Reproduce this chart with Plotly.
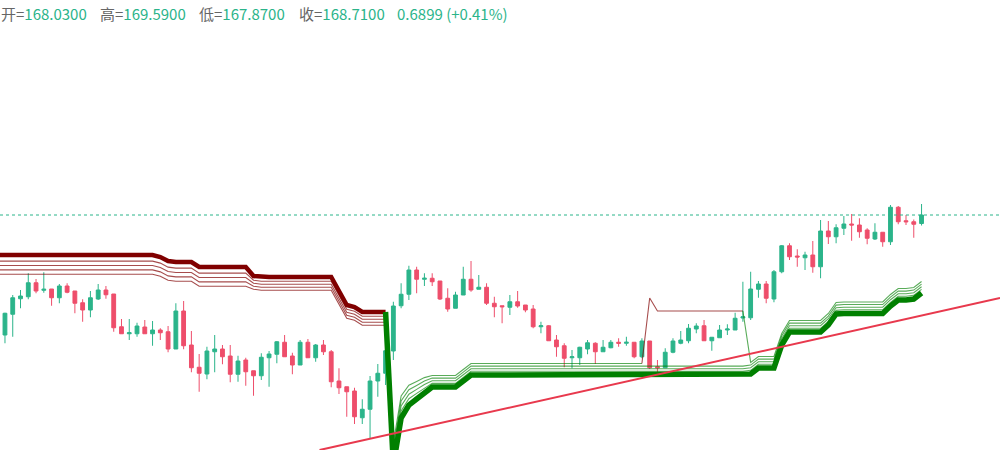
import plotly.graph_objects as go

# ---------------- data ----------------
opens = [159.11, 160.77, 162.01, 162.17, 163.29, 162.69, 162.79, 162.09, 163.03, 162.63,
         161.69, 161.11, 161.99, 162.71, 162.39, 159.77, 159.21, 159.21, 159.75, 159.21,
         159.51, 159.37, 157.99, 161.03, 158.31, 156.53, 155.99, 157.77, 157.99, 157.43,
         155.97, 157.11, 156.25, 155.85, 157.29, 157.57, 158.53, 157.43, 156.71, 158.53,
         157.29, 158.31, 157.77, 155.43, 154.97, 154.63, 152.49, 153.17, 155.43, 156.05,
         157.83, 161.45, 162.37, 164.31, 163.57, 163.65, 163.43, 162.05, 161.25, 162.31,
         163.57, 162.77, 162.93, 161.65, 161.45, 161.33, 161.77, 161.51, 161.19, 159.77,
         159.85, 158.71, 158.25, 157.29, 157.29, 157.99, 158.45, 157.77, 158.09, 158.53,
         158.45, 158.53, 157.37, 158.63, 156.57, 156.49, 157.73, 158.45, 158.65, 159.59,
         159.85, 158.65, 158.89, 159.51, 159.51, 160.47, 160.49, 162.77, 163.19, 161.99,
         164.17, 166.25, 165.43, 165.29, 165.51, 164.57, 167.43, 166.97, 167.65, 167.99,
         167.91, 167.51, 166.79, 167.33, 166.57, 169.33, 168.25, 168.17, 168.03]
highs = [160.89, 162.31, 162.71, 164.05, 163.59, 164.13, 162.79, 163.19, 163.25, 162.63,
         161.97, 162.63, 163.19, 163.03, 162.39, 160.39, 160.39, 160.09, 160.31, 160.23,
         159.65, 159.83, 161.65, 161.83, 159.43, 157.59, 158.17, 159.11, 158.31, 158.31,
         157.45, 157.29, 156.25, 157.65, 157.83, 158.63, 159.11, 157.69, 158.71, 158.79,
         158.39, 158.71, 157.91, 156.45, 154.97, 154.89, 153.97, 155.83, 156.79, 158.23,
         161.77, 163.25, 164.65, 164.57, 164.05, 164.05, 163.43, 162.85, 162.57, 164.57,
         165.03, 163.91, 163.25, 162.17, 161.45, 162.31, 162.63, 161.51, 161.51, 160.17,
         159.91, 159.11, 158.45, 157.91, 158.17, 158.71, 158.53, 158.71, 158.71, 158.85,
         158.97, 158.53, 158.85, 158.63, 157.11, 158.05, 158.85, 159.43, 159.99, 160.05,
         160.31, 158.93, 159.91, 159.97, 160.89, 163.37, 164.17, 163.43, 163.43, 164.31,
         166.31, 166.45, 165.97, 165.77, 166.63, 168.31, 168.23, 167.97, 168.63, 168.79,
         168.45, 167.65, 168.05, 167.33, 169.51, 169.43, 168.71, 168.35, 169.59]
lows = [158.45, 158.97, 161.25, 161.97, 162.45, 162.49, 161.45, 161.65, 162.45, 160.85,
        160.17, 160.53, 161.91, 162.01, 159.37, 159.21, 158.71, 158.97, 159.21, 158.25,
        158.71, 157.73, 157.99, 157.97, 156.13, 154.57, 155.57, 156.13, 156.77, 155.33,
        155.37, 155.05, 154.25, 155.51, 154.97, 156.85, 157.37, 155.97, 156.71, 157.29,
        156.97, 157.51, 154.93, 154.39, 152.57, 151.99, 151.99, 150.85, 154.17, 155.11,
        157.11, 161.25, 161.91, 162.45, 163.03, 163.03, 161.91, 160.97, 161.25, 162.31,
        162.57, 162.77, 161.51, 160.53, 160.05, 160.71, 161.29, 160.93, 159.65, 159.25,
        158.65, 157.37, 156.53, 156.45, 156.71, 157.57, 156.79, 157.77, 158.05, 158.17,
        158.25, 157.25, 157.25, 156.39, 155.85, 156.49, 157.65, 158.37, 158.45, 159.25,
        158.65, 157.85, 158.89, 159.11, 159.51, 160.17, 160.31, 162.09, 161.65, 161.73,
        164.05, 165.11, 164.57, 164.31, 164.09, 163.65, 166.39, 166.45, 167.11, 166.65,
        166.89, 166.37, 166.71, 166.17, 166.31, 167.97, 167.91, 166.89, 167.87]
closes = [160.85, 162.09, 162.23, 163.29, 162.63, 162.77, 162.09, 163.03, 162.53, 161.65,
          161.11, 162.09, 162.71, 162.33, 159.69, 159.21, 159.29, 159.83, 159.21, 159.51,
          159.29, 157.99, 161.03, 158.25, 156.49, 156.05, 157.83, 157.99, 157.37, 155.97,
          157.03, 156.17, 155.85, 157.33, 157.59, 158.57, 157.37, 156.71, 158.53, 157.29,
          158.31, 157.77, 155.37, 154.89, 154.57, 152.57, 153.17, 155.43, 156.05, 157.85,
          161.43, 162.37, 164.31, 163.57, 163.65, 163.37, 161.99, 161.19, 162.31, 163.57,
          162.71, 162.93, 161.65, 161.37, 161.37, 161.77, 161.43, 161.11, 159.77, 159.85,
          158.65, 158.17, 157.25, 157.37, 158.13, 158.49, 157.77, 158.13, 158.53, 158.45,
          158.53, 157.37, 158.63, 156.49, 156.49, 157.73, 158.63, 158.71, 159.65, 159.83,
          158.65, 158.93, 159.51, 159.59, 160.45, 160.57, 162.79, 163.19, 162.05, 164.17,
          166.25, 165.37, 165.35, 165.51, 164.57, 167.43, 166.97, 167.69, 167.99, 167.91,
          167.37, 166.85, 167.33, 166.57, 169.33, 168.17, 168.17, 167.97, 168.71]

# main (widest) supertrend line, one value per bar index from -1 to 118
st_x = list(range(-1, 119))
st_main = [165.51, 165.51, 165.51, 165.51, 165.51, 165.51, 165.51, 165.51, 165.51, 165.51,
           165.51, 165.51, 165.51, 165.51, 165.51, 165.51, 165.51, 165.51, 165.51, 165.51,
           165.51, 165.35, 165.03, 164.95, 164.95, 164.95, 164.55, 164.55, 164.55, 164.55,
           164.55, 164.55, 164.55, 163.83, 163.75, 163.75, 163.75, 163.75, 163.75, 163.75,
           163.75, 163.75, 163.75, 163.75, 162.63, 161.51, 161.35, 160.95, 160.95, 160.95,
           160.95, 148.71, 152.47, 153.51, 153.99, 154.47, 154.95, 154.95, 154.95, 154.95,
           155.43, 155.91, 155.91, 155.91, 155.91, 155.91, 155.91, 155.91, 155.91, 155.91,
           155.91, 155.91, 155.91, 155.91, 155.91, 155.91, 155.91, 155.91, 155.91, 155.91,
           155.91, 155.91, 155.91, 155.91, 155.91, 155.91, 155.91, 155.91, 155.91, 155.91,
           155.91, 155.91, 155.91, 155.91, 155.91, 155.91, 155.91, 155.99, 156.47, 156.47,
           156.47, 158.31, 159.35, 159.35, 159.35, 159.35, 159.35, 159.91, 160.79, 160.83,
           160.83, 160.83, 160.83, 160.83, 160.83, 161.43, 161.91, 161.91, 161.99, 162.47]
st_flip = 50            # first bar of the up-trend (green) regime
# spacing between the stacked thinner lines: (first bar, last bar, price gap)
st_gaps = [(-1, 31, 0.35), (32, 49, 0.24), (50, 51, 0.40), (52, 52, 0.36),
           (53, 53, 0.32), (54, 54, 0.28), (55, 118, 0.21)]
# the fastest line flips to a down-trend between these bars
fast_down_x = [83, 84, 85, 86, 87, 88, 89, 90, 91, 92, 93, 94, 95]
fast_down_y = [162.07, 161.03, 161.03, 161.03, 161.03, 161.03, 161.03, 161.03,
               161.03, 161.03, 161.03, 161.03, 161.03]

trend_x = [40.5, 128.1]
trend_y = [149.91, 162.07]

last_close = 168.71
header = [("开", "168.0300"), ("高", "169.5900"), ("低", "167.8700"), ("收", "168.7100")]
change_text = "0.6899 (+0.41%)"

# ---------------- style ----------------
UP = "#2bb48a"
DOWN = "#ee4e6b"
THICK_RED = "#800000"
THICK_GREEN = "#008000"
THIN_RED = "rgba(128,0,0,0.7)"
THIN_GREEN = "rgba(0,128,0,0.65)"
FONT = "Noto Sans CJK SC"

fig = go.Figure()
fig.add_trace(go.Candlestick(
    x=list(range(len(opens))), open=opens, high=highs, low=lows, close=closes,
    increasing=dict(line=dict(color=UP, width=1), fillcolor=UP),
    decreasing=dict(line=dict(color=DOWN, width=1), fillcolor=DOWN),
    whiskerwidth=0, showlegend=False, hoverinfo="skip"))


def gap_at(i):
    for a, b, g in st_gaps:
        if a <= i <= b:
            return g
    return 0.21


def add_runs(xs, ys, states, width, colors):
    start = 0
    n = len(xs)
    for j in range(1, n + 1):
        if j == n or states[j] != states[start]:
            s0 = max(start - 1, 0)
            fig.add_trace(go.Scatter(
                x=xs[s0:j], y=ys[s0:j], mode="lines",
                line=dict(color=colors[states[start]], width=width, shape="linear"),
                showlegend=False, hoverinfo="skip"))
            start = j


states = ["up" if i >= st_flip else "down" for i in st_x]
fast_map = dict(zip(fast_down_x, fast_down_y))

# thin stacked lines
for m in range(1, 5):
    ys, ss = [], []
    for i, v, s in zip(st_x, st_main, states):
        off = (m + 0.4) * gap_at(i)
        if m == 4 and i in fast_map:
            ys.append(fast_map[i])
            ss.append("down")
        else:
            ys.append(v + off if s == "up" else v - off)
            ss.append(s)
    add_runs(st_x, ys, ss, 1.1, {"up": THIN_GREEN, "down": THIN_RED})

# thick main line (drawn per regime with different widths)
start = 0
for j in range(1, len(st_x) + 1):
    if j == len(st_x) or states[j] != states[start]:
        s0 = max(start - 1, 0)
        up = states[start] == "up"
        fig.add_trace(go.Scatter(
            x=st_x[s0:j], y=st_main[s0:j], mode="lines",
            line=dict(color=THICK_GREEN if up else THICK_RED, width=5.5 if up else 4.5),
            showlegend=False, hoverinfo="skip"))
        start = j

# trend line
fig.add_trace(go.Scatter(x=trend_x, y=trend_y, mode="lines",
                         line=dict(color="#e8394d", width=2),
                         showlegend=False, hoverinfo="skip"))

# last-price dotted line
fig.add_shape(type="line", xref="paper", x0=0, x1=1, yref="y",
              y0=last_close, y1=last_close,
              line=dict(color=UP, width=1, dash="dot"))

# header text
xs_pix = [0, 99, 198, 298]
for (lab, val), xp in zip(header, xs_pix):
    fig.add_annotation(
        xref="paper", yref="paper", x=xp / 1000, y=1 - 14 / 450,
        xanchor="left", yanchor="middle", showarrow=False,
        text=f'<span style="color:#666666">{lab}=</span><span style="color:{UP}">{val}</span>',
        font=dict(family=FONT, size=15, color=UP), borderpad=0)
fig.add_annotation(
    xref="paper", yref="paper", x=396 / 1000, y=1 - 14 / 450,
    xanchor="left", yanchor="middle", showarrow=False, text=change_text,
    font=dict(family=FONT, size=15, color=UP), borderpad=0)

fig.update_layout(
    width=1000, height=450, margin=dict(l=0, r=0, t=0, b=0),
    paper_bgcolor="white", plot_bgcolor="white", showlegend=False,
    xaxis=dict(range=[-0.64, 128.1], visible=False, showgrid=False,
               zeroline=False, rangeslider=dict(visible=False), fixedrange=True),
    yaxis=dict(range=[149.91, 185.91], visible=False, showgrid=False,
               zeroline=False, fixedrange=True),
    font=dict(family=FONT),
)

fig.write_html("out.html", config={"displayModeBar": False},
               post_script="document.body.style.margin='0';document.body.style.padding='0';")
